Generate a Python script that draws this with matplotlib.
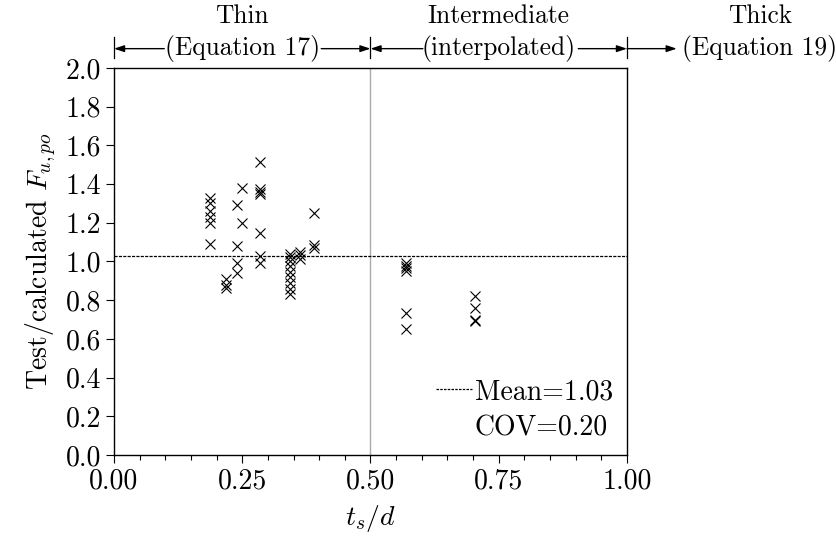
import matplotlib
matplotlib.use("Agg")
import matplotlib.pyplot as plt
from matplotlib.lines import Line2D
from matplotlib.ticker import MultipleLocator, FormatStrFormatter

plt.rcParams["font.family"] = ["cmr10", "DejaVu Serif"]
plt.rcParams["mathtext.fontset"] = "cm"
plt.rcParams["axes.formatter.use_mathtext"] = True

# test / calculated F_u,po against t_s/d, one list per thickness column
ts_d = ([0.1875] * 6 + [0.218] * 3 + [0.239] * 4 + [0.250] * 2
        + [0.285] * 7 + [0.343] * 9 + [0.3625] * 3 + [0.390] * 3
        + [0.570] * 6 + [0.704] * 4)
ratio = [1.33, 1.30, 1.26, 1.23, 1.20, 1.09,
         0.91, 0.88, 0.865,
         1.29, 1.08, 0.99, 0.94,
         1.38, 1.20,
         1.515, 1.375, 1.36, 1.35, 1.145, 1.03, 0.99,
         1.04, 1.025, 1.00, 0.975, 0.945, 0.92, 0.89, 0.86, 0.83,
         1.05, 1.035, 1.015,
         1.25, 1.085, 1.07,
         0.99, 0.975, 0.965, 0.95, 0.735, 0.65,
         0.82, 0.76, 0.70, 0.69]
mean_ratio = 1.03
cov = 0.20

region_bounds = [0.0, 0.5, 1.0]
region_names = ["Thin", "Intermediate", "Thick"]
region_notes = ["(Equation 17)", "(interpolated)", "(Equation 19)"]

FS = 20
FS_TOP = 18.3

fig = plt.figure(figsize=(8.37, 5.41), dpi=100)
ax = fig.add_axes([0.1362, 0.159, 0.6129, 0.7153])

ax.axvline(0.5, color="#aaaaaa", lw=1.0, zorder=1)
ax.axhline(mean_ratio, color="black", lw=0.9, ls=(0, (2.5, 1)), zorder=2)
ax.plot(ts_d, ratio, ls="none", marker="x", color="black",
        markersize=7.5, mew=0.8, zorder=3)

ax.set_xlim(0, 1)
ax.set_ylim(0, 2)
ax.xaxis.set_major_locator(MultipleLocator(0.25))
ax.xaxis.set_minor_locator(MultipleLocator(0.05))
ax.yaxis.set_major_locator(MultipleLocator(0.2))
ax.xaxis.set_major_formatter(FormatStrFormatter("%.2f"))
ax.yaxis.set_major_formatter(FormatStrFormatter("%.1f"))
ax.tick_params(which="both", direction="out", labelsize=FS, width=0.8)
ax.tick_params(which="major", length=6)
ax.tick_params(which="minor", length=3.5)
for s in ax.spines.values():
    s.set_linewidth(1.0)

ax.set_xlabel("$t_s/d$", fontsize=FS, labelpad=6)
ax.set_ylabel("Test/calculated $F_{u,po}$", fontsize=FS, labelpad=5)

# legend: dotted mean line, then COV without a handle
handles = [Line2D([], [], color="black", lw=0.9, ls=(0, (2, 1))),
           Line2D([], [], color="none")]
ax.legend(handles, ["Mean=%.2f" % mean_ratio, "COV=%.2f" % cov],
          loc="lower right", frameon=False, fontsize=FS,
          handlelength=1.3, handletextpad=0.1, labelspacing=0.35,
          borderaxespad=0.1)

# region markers above the plot
y_arrow = 2.1
y_name = 2.27
for xb in region_bounds:
    ax.plot([xb, xb], [2.05, 2.16], color="black", lw=0.9, clip_on=False)

arrow_kw = dict(arrowstyle="-|>,head_length=0.6,head_width=0.2",
                color="black", lw=1.0, shrinkA=0, shrinkB=0)
arrows = [(0.098, 0.0), (0.404, 0.5), (0.602, 0.5), (0.905, 1.0), (1.0, 1.097)]
for x0, x1 in arrows:
    ax.annotate("", xy=(x1, y_arrow), xytext=(x0, y_arrow),
                arrowprops=arrow_kw, annotation_clip=False)

name_x = [0.25, 0.75, 1.26]
for xc, name, note in zip(name_x[:2], region_names[:2], region_notes[:2]):
    ax.text(xc, y_name, name, ha="center", va="center", fontsize=FS_TOP,
            clip_on=False)
    ax.text(xc, y_arrow, note, ha="center", va="center", fontsize=FS_TOP,
            clip_on=False)
ax.text(name_x[2], y_name, region_names[2], ha="center", va="center",
        fontsize=FS_TOP, clip_on=False)
ax.text(1.108, y_arrow, region_notes[2], ha="left", va="center",
        fontsize=FS_TOP, clip_on=False)

plt.savefig("out.png", dpi=100)
